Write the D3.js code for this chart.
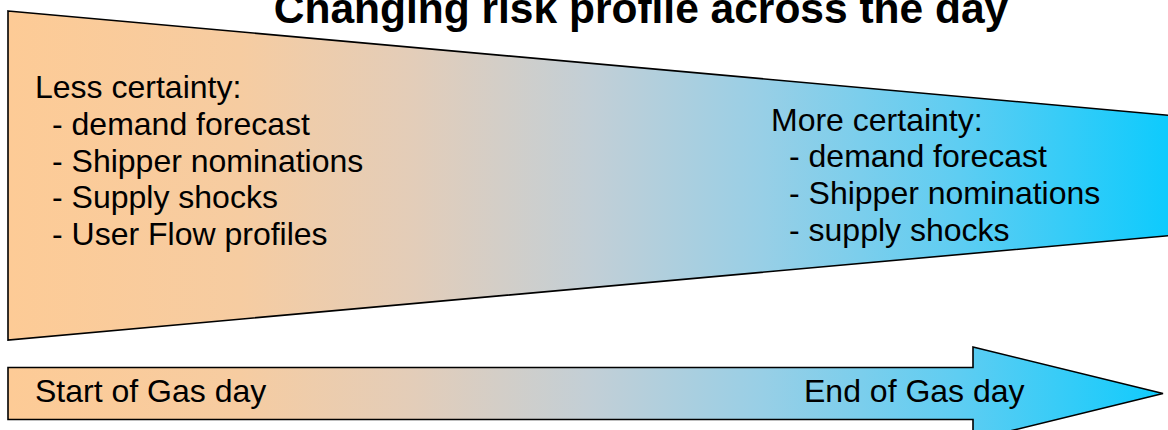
<!DOCTYPE html>
<html>
<head>
<meta charset="utf-8">
<script src="https://cdn.jsdelivr.net/npm/d3@7"></script>
<style>
  html, body { margin: 0; padding: 0; background: #fff; overflow: hidden; }
  svg { display: block; }
  text { font-family: "Liberation Sans", Arial, sans-serif; fill: #000; }
</style>
</head>
<body>
<svg id="chart" width="1168" height="430"></svg>
<script>
// ---- content ----
const title = "Changing risk profile across the day";
const startHeading = "Less certainty:";
const startItems = ["demand forecast", "Shipper nominations", "Supply shocks", "User Flow profiles"];
const endHeading = "More certainty:";
const endItems = ["demand forecast", "Shipper nominations", "supply shocks"];
const timeLabels = ["Start of Gas day", "End of Gas day"];

// spread of risk (half-width of the wedge) at the start and end of the day
const dayPositions = [0, 1];
const riskSpread = [1, 0.365];

// gradient colours along the day
const gradientStops = [
  { offset: 0.00, color: "#fdcb96" },
  { offset: 0.20, color: "#f6cca1" },
  { offset: 0.35, color: "#e3cdb9" },
  { offset: 0.50, color: "#c3cfd6" },
  { offset: 0.65, color: "#98cfe6" },
  { offset: 0.82, color: "#5ecdf2" },
  { offset: 1.00, color: "#0ecbfd" }
];

// ---- layout ----
const svg = d3.select("#chart");

// the wedge runs slightly past the right edge of the view
const x = d3.scaleLinear().domain([0, 1]).range([8, 1171]);
const wedgeCenter = 175.5;
const spreadScale = d3.scaleLinear().domain([0, 1]).range([0, 164.5]);

const defs = svg.append("defs");
const grad = defs.append("linearGradient")
  .attr("id", "dayGradient")
  .attr("gradientUnits", "userSpaceOnUse")
  .attr("x1", 8).attr("y1", 0)
  .attr("x2", 1168).attr("y2", 0);
grad.selectAll("stop").data(gradientStops).enter().append("stop")
  .attr("offset", d => d.offset)
  .attr("stop-color", d => d.color);

// wedge showing narrowing uncertainty
const topEdge = dayPositions.map((t, i) => [x(t), wedgeCenter - spreadScale(riskSpread[i])]);
const bottomEdge = dayPositions.map((t, i) => [x(t), wedgeCenter + spreadScale(riskSpread[i])]).reverse();
const wedgePts = topEdge.concat(bottomEdge);

svg.append("path")
  .attr("d", d3.line()(wedgePts) + "Z")
  .attr("fill", "url(#dayGradient)")
  .attr("stroke", "#000")
  .attr("stroke-width", 1.6)
  .attr("stroke-linejoin", "miter");

// time arrow along the bottom
const arrowMid = 393.5;
const bodyHalf = 26;
const headHalf = 46.5;
const headStart = 973;
const tipX = 1163;
const arrowPts = [
  [x(0), arrowMid - bodyHalf],
  [headStart, arrowMid - bodyHalf],
  [headStart, arrowMid - headHalf],
  [tipX, arrowMid],
  [headStart, arrowMid + headHalf],
  [headStart, arrowMid + bodyHalf],
  [x(0), arrowMid + bodyHalf]
];
svg.append("path")
  .attr("d", d3.line()(arrowPts) + "Z")
  .attr("fill", "url(#dayGradient)")
  .attr("stroke", "#000")
  .attr("stroke-width", 1.6)
  .attr("stroke-linejoin", "miter");

// title (sits against the top edge of the view)
svg.append("text")
  .attr("x", 641)
  .attr("y", 23)
  .attr("text-anchor", "middle")
  .style("font-size", "42.5px")
  .style("font-weight", "bold")
  .text(title);

const fontSize = "32px";
const lineGap = 36.8;

function textBlock(heading, items, hx, hy, indent) {
  const g = svg.append("g");
  g.append("text")
    .attr("x", hx).attr("y", hy)
    .style("font-size", fontSize)
    .text(heading);
  g.selectAll("text.item").data(items).enter().append("text")
    .attr("class", "item")
    .attr("x", hx + indent)
    .attr("y", (d, i) => hy + lineGap * (i + 1))
    .style("font-size", fontSize)
    .text(d => "- " + d);
}

textBlock(startHeading, startItems, 35, 98, 17);
textBlock(endHeading, endItems, 771, 130.5, 18);

// labels on the time arrow
svg.selectAll("text.time").data(timeLabels).enter().append("text")
  .attr("class", "time")
  .attr("x", (d, i) => i === 0 ? 35 : 804)
  .attr("y", 402)
  .style("font-size", fontSize)
  .text(d => d);
</script>
</body>
</html>
